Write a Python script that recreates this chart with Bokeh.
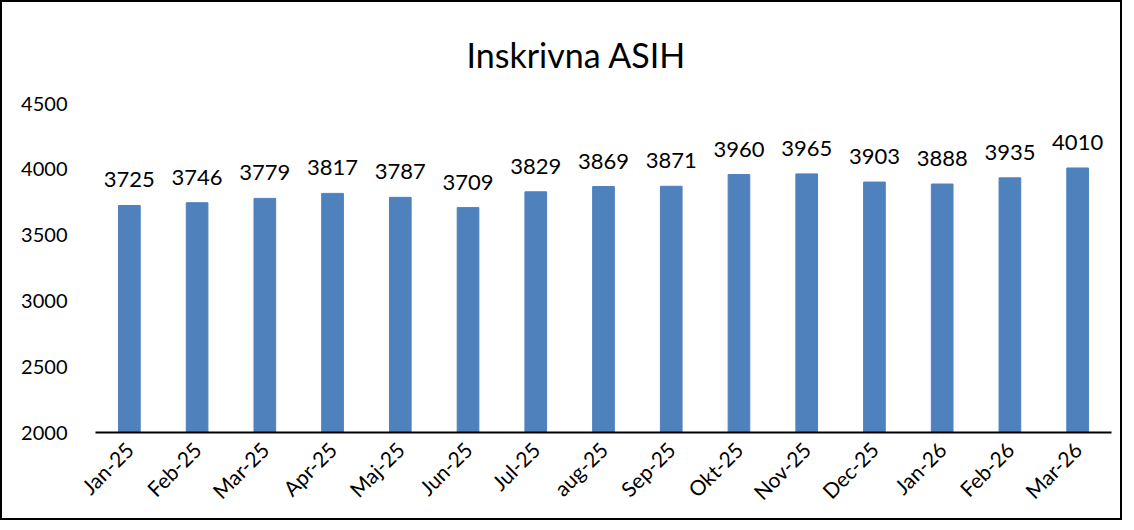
from bokeh.plotting import figure
from bokeh.models import ColumnDataSource, Range1d, FixedTicker, LabelSet
from bokeh.core.properties import value
from bokeh.embed import file_html
from bokeh.resources import INLINE

months = ["Jan-25", "Feb-25", "Mar-25", "Apr-25", "Maj-25", "Jun-25", "Jul-25", "aug-25",
          "Sep-25", "Okt-25", "Nov-25", "Dec-25", "Jan-26", "Feb-26", "Mar-26"]
values = [3725, 3746, 3779, 3817, 3787, 3709, 3829, 3869, 3871, 3960, 3965, 3903, 3888, 3935, 4010]
y_ticks = [2000, 2500, 3000, 3500, 4000, 4500]
title_text = "Inskrivna ASIH"

FONT = "Lato"

src = ColumnDataSource(dict(m=months, v=values, t=[str(v) for v in values]))

p = figure(x_range=months, y_range=Range1d(2000, 4500), width=1122, height=520,
           output_backend="svg", toolbar_location=None,
           min_border_left=93, min_border_right=13, min_border_top=100, min_border_bottom=90)
p.styles = {"border": "2px solid black", "box-sizing": "border-box"}

p.title.text = title_text
p.title.align = "left"
p.title.offset = 371
p.title.text_font = FONT
p.title.text_font_size = "34px"
p.title.text_font_style = "normal"
p.title.text_color = "black"
p.title.text_line_height = 1.0
p.title.standoff = 58

p.vbar(x="m", top="v", bottom=2000, width=0.32, source=src,
       fill_color="#4F81BD", line_color="#4F81BD")

labels = LabelSet(x="m", y="v", text="t", source=src, text_align="center",
                  text_baseline="bottom", y_offset=18, text_font=value(FONT),
                  text_font_size=value("22px"), text_color="black")
p.add_layout(labels)

p.outline_line_color = None
p.grid.grid_line_color = None

p.yaxis.ticker = FixedTicker(ticks=y_ticks)
p.yaxis.axis_line_color = None
p.yaxis.major_tick_line_color = None
p.yaxis.minor_tick_line_color = None
p.yaxis.major_label_text_font = FONT
p.yaxis.major_label_text_font_size = "20px"
p.yaxis.major_label_text_color = "black"
p.yaxis.major_label_standoff = 22

p.xaxis.axis_line_color = "black"
p.xaxis.axis_line_width = 2
p.xaxis.major_tick_line_color = None
p.xaxis.minor_tick_line_color = None
p.xaxis.major_label_orientation = 0.785398
p.xaxis.major_label_text_font = FONT
p.xaxis.major_label_text_font_size = "21px"
p.xaxis.major_label_text_color = "black"
p.xaxis.major_label_standoff = 7

open("out.html", "w").write(file_html(p, INLINE))
